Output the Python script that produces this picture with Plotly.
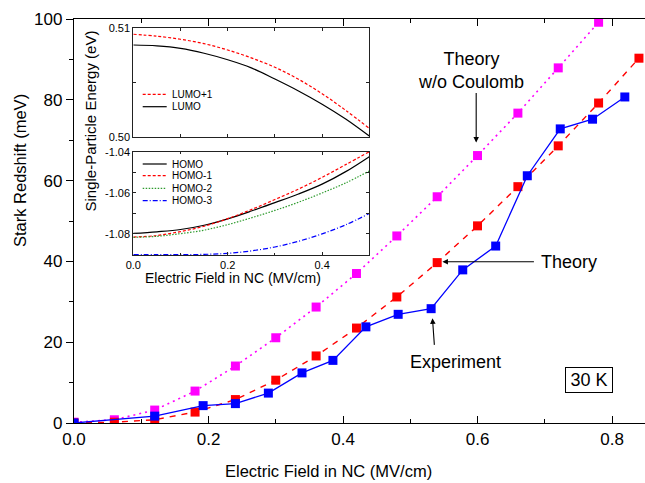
import plotly.graph_objects as go

# ---------------- main data ----------------
field_nocoul = [0.0, 0.06, 0.12, 0.18, 0.24, 0.30, 0.36, 0.42, 0.48, 0.54, 0.60, 0.66, 0.72, 0.78]
shift_nocoul = [0.2, 0.8, 3.2, 7.9, 14.1, 21.1, 28.7, 37.0, 46.3, 56.0, 66.2, 76.7, 87.9, 99.2]

field_theory = [0.0, 0.06, 0.12, 0.18, 0.24, 0.30, 0.36, 0.42, 0.48, 0.54, 0.60, 0.66, 0.72, 0.78, 0.84]
shift_theory = [0.0, 0.2, 0.8, 2.7, 5.8, 10.6, 16.6, 23.5, 31.2, 39.7, 48.8, 58.5, 68.6, 79.2, 90.3]

field_exp = [0.0, 0.12, 0.192, 0.24, 0.289, 0.339, 0.385, 0.434, 0.482, 0.531, 0.578, 0.627,
             0.674, 0.723, 0.771, 0.819]
shift_exp = [0.0, 1.7, 4.3, 4.8, 7.4, 12.4, 15.5, 23.8, 26.9, 28.3, 37.9, 43.8, 61.2, 72.8,
             75.2, 80.7]

# ---------------- inset data ----------------
field_inset = [0.0, 0.05, 0.10, 0.15, 0.20, 0.25, 0.30, 0.35, 0.40, 0.45, 0.50]
lumo1 = [0.50945, 0.50927, 0.50899, 0.50858, 0.50800, 0.50727, 0.50640, 0.50530, 0.50397, 0.50243, 0.50077]
lumo = [0.50846, 0.50838, 0.50815, 0.50770, 0.50710, 0.50635, 0.50532, 0.50422, 0.50300, 0.50163, 0.50006]
homo = [-1.0798, -1.0790, -1.0779, -1.0758, -1.0727, -1.0689, -1.0648, -1.0606, -1.0558, -1.0497, -1.0424]
homo1 = [-1.0816, -1.0808, -1.0789, -1.0763, -1.0726, -1.0682, -1.0633, -1.0582, -1.0525, -1.0463, -1.0400]
homo2 = [-1.0817, -1.0812, -1.0799, -1.0782, -1.0755, -1.0722, -1.0686, -1.0646, -1.0601, -1.0552, -1.0494]
homo3 = [-1.0901, -1.0901, -1.0901, -1.0900, -1.0895, -1.0883, -1.0864, -1.0836, -1.0800, -1.0756, -1.0701]

top_names = ["LUMO+1", "LUMO"]
bot_names = ["HOMO", "HOMO-1", "HOMO-2", "HOMO-3"]
inset_y3_ticks = [-1.04, -1.06, -1.08]
inset_y3_text = ["-1.04", "-1.06", "-1.08"]

FONT = "Liberation Sans, Arial, sans-serif"
MAGENTA, RED, BLUE, GREEN = "#FF00FF", "#FF0000", "#0000FF", "#2E9B2E"

fig = go.Figure()

# main traces
fig.add_trace(go.Scatter(x=field_nocoul, y=shift_nocoul, mode="lines+markers",
                         line=dict(color=MAGENTA, width=1.6, dash="2px,4px"),
                         marker=dict(symbol="square", size=9, color=MAGENTA),
                         showlegend=False))
fig.add_trace(go.Scatter(x=field_theory, y=shift_theory, mode="lines+markers",
                         line=dict(color=RED, width=1.4, dash="6px,6px"),
                         marker=dict(symbol="square", size=9, color=RED),
                         showlegend=False))
fig.add_trace(go.Scatter(x=field_exp, y=shift_exp, mode="lines+markers",
                         line=dict(color=BLUE, width=1.3),
                         marker=dict(symbol="square", size=9, color=BLUE),
                         showlegend=False))

# inset top
fig.add_trace(go.Scatter(x=field_inset, y=lumo1, mode="lines", xaxis="x2", yaxis="y2",
                         line=dict(color=RED, width=1.2, dash="3px,2px", shape="spline"),
                         showlegend=False))
fig.add_trace(go.Scatter(x=field_inset, y=lumo, mode="lines", xaxis="x2", yaxis="y2",
                         line=dict(color="black", width=1.2, shape="spline"),
                         showlegend=False))
# inset bottom
bot_styles = [("black", "solid"), (RED, "3px,2px"), (GREEN, "1.5px,1.5px"), (BLUE, "5px,2px,1px,2px")]
for ys, (c, d) in zip([homo, homo1, homo2, homo3], bot_styles):
    fig.add_trace(go.Scatter(x=field_inset, y=ys, mode="lines", xaxis="x3", yaxis="y3",
                             line=dict(color=c, width=1.2, dash=d, shape="spline"),
                             showlegend=False))

# ---------- layout ----------
L, T, B = 74, 19, 60
W, H = 645, 483
PW, PH = W - L, H - T - B


def px(xp):
    return (xp - L) / PW


def py(yp):
    return (H - B - yp) / PH


main_tick_font = dict(family=FONT, size=17, color="black")
inset_tick_font = dict(family=FONT, size=11, color="black")

fig.update_layout(
    width=W, height=H,
    margin=dict(l=L, r=0, t=T, b=B),
    paper_bgcolor="white", plot_bgcolor="white",
    font=dict(family=FONT, color="black"),
    xaxis=dict(range=[0, 0.849], showgrid=False, zeroline=False, automargin=False,
               showline=True, linecolor="black", linewidth=1.3, mirror="ticks",
               ticks="inside", ticklen=7, tickwidth=1.2, tickcolor="black",
               dtick=0.2, tick0=0, tickformat=".1f", tickfont=main_tick_font,
               minor=dict(dtick=0.1, ticks="inside", ticklen=4, tickwidth=1, tickcolor="black")),
    yaxis=dict(range=[0, 100], showgrid=False, zeroline=False, automargin=False,
               showline=True, linecolor="black", linewidth=1.3, mirror=True,
               ticks="outside", ticklen=7, tickwidth=1.2, tickcolor="black",
               dtick=20, tick0=0, tickfont=main_tick_font,
               minor=dict(dtick=10, ticks="outside", ticklen=4, tickwidth=1, tickcolor="black")),
    yaxis4=dict(range=[0, 100], overlaying="y", side="right", anchor="x", automargin=False,
                showgrid=False, zeroline=False, showticklabels=False,
                ticks="inside", ticklen=7, tickwidth=1.2, tickcolor="black", dtick=20,
                minor=dict(dtick=10, ticks="inside", ticklen=4, tickwidth=1, tickcolor="black")),
    xaxis2=dict(domain=[px(133.3), px(369.3)], anchor="y2", range=[0, 0.5], automargin=False,
                showgrid=False, zeroline=False, showline=True, linecolor="#222",
                linewidth=1.1, mirror="ticks", ticks="inside", ticklen=3, tickwidth=1,
                tickcolor="#222", dtick=0.1, showticklabels=False),
    yaxis2=dict(domain=[py(136.7), py(28.3)], anchor="x2", range=[0.50, 0.51], automargin=False,
                showgrid=False, zeroline=False, showline=True, linecolor="#222",
                linewidth=1.1, mirror="ticks", ticks="inside", ticklen=3, tickwidth=1,
                tickcolor="#222", tickvals=[0.50, 0.51], tickformat=".2f",
                tickfont=inset_tick_font,
                minor=dict(tickvals=[0.505], ticks="inside", ticklen=3, tickcolor="#222")),
    xaxis3=dict(domain=[px(133.3), px(369.3)], anchor="y3", range=[0, 0.5], automargin=False,
                showgrid=False, zeroline=False, showline=True, linecolor="#222",
                linewidth=1.1, mirror="ticks", ticks="inside", ticklen=3, tickwidth=1,
                tickcolor="#222", dtick=0.2, tick0=0, tickformat=".1f",
                tickfont=inset_tick_font,
                minor=dict(dtick=0.1, ticks="inside", ticklen=2, tickcolor="#222")),
    yaxis3=dict(domain=[py(255), py(151.7)], anchor="x3", range=[-1.0903, -1.04], automargin=False,
                showgrid=False, zeroline=False, showline=True, linecolor="#222",
                linewidth=1.1, mirror="ticks", ticks="inside", ticklen=3, tickwidth=1,
                tickcolor="#222", tickvals=inset_y3_ticks, ticktext=inset_y3_text,
                tickfont=inset_tick_font,
                minor=dict(tickvals=[-1.05, -1.07, -1.09], ticks="inside", ticklen=3,
                           tickcolor="#222")),
)

ann_font = dict(family=FONT, size=18, color="black")
C = dict(xanchor="center", yanchor="middle")
annotations = [
    # axis titles
    dict(x=px(328), y=py(471), xref="paper", yref="paper", text="Electric Field in NC (MV/cm)",
         showarrow=False, font=dict(family=FONT, size=16.5, color="black"), **C),
    dict(x=px(20), y=py(171), xref="paper", yref="paper", text="Stark Redshift (meV)",
         textangle=-90, showarrow=False, font=dict(family=FONT, size=16.5, color="black"), **C),
    # inset titles
    dict(x=px(233.3), y=py(278.3), xref="paper", yref="paper", text="Electric Field in NC (MV/cm)",
         showarrow=False, font=dict(family=FONT, size=14, color="black"), **C),
    dict(x=px(90), y=py(121.5), xref="paper", yref="paper", text="Single-Particle Energy (eV)",
         textangle=-90, showarrow=False, font=dict(family=FONT, size=15, color="black"), **C),
    # labels
    dict(x=0.590, y=87.2, xref="x", yref="y", text="Theory<br>w/o Coulomb", showarrow=False,
         font=ann_font, **C),
    dict(x=0.598, y=69.4, xref="x", yref="y", text="", showarrow=True, ax=0, ay=-51,
         arrowhead=2, arrowsize=1, arrowwidth=1.1, arrowcolor="black"),
    dict(x=0.7355, y=39.9, xref="x", yref="y", text="Theory", showarrow=False, font=ann_font, **C),
    dict(x=0.5478, y=39.9, xref="x", yref="y", text="", showarrow=True, ax=93, ay=0,
         arrowhead=2, arrowsize=1, arrowwidth=1.1, arrowcolor="black"),
    dict(x=0.5678, y=15.1, xref="x", yref="y", text="Experiment", showarrow=False, font=ann_font, **C),
    dict(x=0.533, y=25.9, xref="x", yref="y", text="", showarrow=True, ax=2, ay=28,
         arrowhead=2, arrowsize=1, arrowwidth=1.1, arrowcolor="black"),
    dict(x=0.765, y=10.6, xref="x", yref="y", text="30 K", showarrow=False, font=ann_font,
         bordercolor="black", borderwidth=1, borderpad=2, width=42, bgcolor="white", **C),
]

shapes = []
# inset legends
top_leg_y = [94.3, 106.7]
top_leg_style = [(RED, "3px,2px"), ("black", "solid")]
for name, yy, (c, d) in zip(top_names, top_leg_y, top_leg_style):
    shapes.append(dict(type="line", xref="paper", yref="paper", x0=px(142.7), x1=px(166.7),
                       y0=py(yy), y1=py(yy), line=dict(color=c, width=1.2, dash=d)))
    annotations.append(dict(x=px(170), y=py(yy), xref="paper", yref="paper", text=name,
                            xanchor="left", yanchor="middle", showarrow=False,
                            font=dict(family=FONT, size=10, color="black")))
bot_leg_y = [164, 175.7, 188.3, 200.7]
for name, yy, (c, d) in zip(bot_names, bot_leg_y, bot_styles):
    shapes.append(dict(type="line", xref="paper", yref="paper", x0=px(142.7), x1=px(166.7),
                       y0=py(yy), y1=py(yy), line=dict(color=c, width=1.2, dash=d)))
    annotations.append(dict(x=px(170), y=py(yy), xref="paper", yref="paper", text=name,
                            xanchor="left", yanchor="middle", showarrow=False,
                            font=dict(family=FONT, size=10, color="black")))

fig.update_layout(annotations=annotations, shapes=shapes)
fig.write_html("out.html", config={"displayModeBar": False},
               post_script="document.body.style.margin='0';")
